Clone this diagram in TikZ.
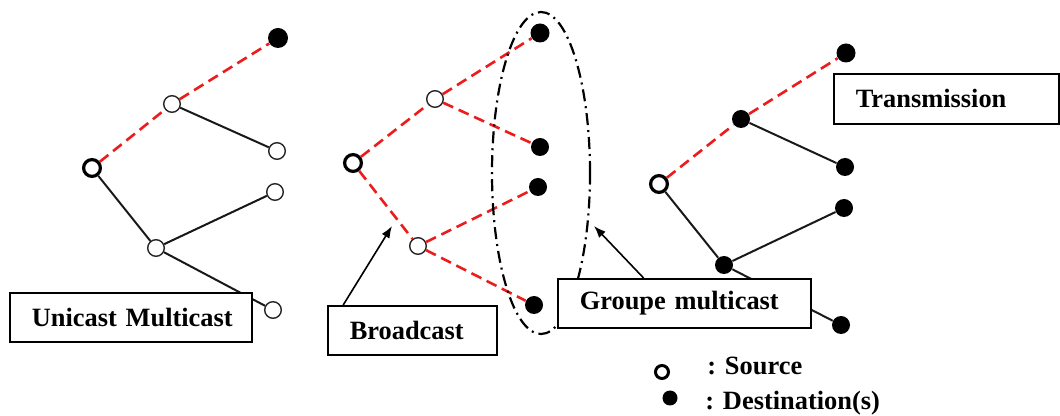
\documentclass[tikz,border=0pt]{standalone}
\usepackage{fontspec}
\setmainfont{Liberation Serif}
\usetikzlibrary{arrows.meta,calc,shapes.geometric}
\definecolor{pathred}{RGB}{236,28,28}
\hfuzz=5pt
\begin{document}
\begin{tikzpicture}[x=0.5pt,y=-0.5pt,
  dest/.style={circle,fill=black,inner sep=0pt,minimum size=9pt},
  relay/.style={circle,draw=black!85,line width=0.7pt,fill=white,inner sep=0pt,minimum size=8.3pt},
  src/.style={circle,draw=black,line width=1.6pt,fill=white,inner sep=0pt,minimum size=8.4pt},
  link/.style={line width=1pt,black!90},
  sent/.style={line width=1.3pt,pathred,dash pattern=on 5.5pt off 3pt},
  labelbox/.style={draw,line width=0.8pt,fill=white,anchor=north west,inner xsep=11pt,inner ysep=0pt,
    align=left,font=\fontsize{13.2}{15}\selectfont\bfseries},
  pointer/.style={line width=0.8pt,-{Latex[length=6pt,width=4.5pt]}},
  legendtext/.style={anchor=base west,inner sep=0pt,font=\fontsize{13.2}{15}\selectfont\bfseries}]
\useasboundingbox (0,0) rectangle (1060,416);

% Unicast / multicast tree
\node[dest,minimum size=10pt] (d1) at (278,38) {};
\node[relay] (r1a) at (172,104) {};
\node[relay] (r1b) at (277,151) {};
\node[src]   (s1)  at (92,168) {};
\node[relay] (r1c) at (275,192) {};
\node[relay] (r1d) at (156,248) {};
\node[relay] (r1e) at (273,310) {};

% Broadcast tree
\node[dest,minimum size=9.5pt] (d2a) at (540,33) {};
\node[relay] (r2a) at (435,99) {};
\node[dest]  (d2b) at (540,147) {};
\node[src]   (s2)  at (353,163) {};
\node[dest]  (d2c) at (538,187) {};
\node[relay] (r2b) at (418,246) {};
\node[dest]  (d2d) at (534,305) {};

% Transmission tree
\node[dest,minimum size=9.5pt] (d3a) at (846,53) {};
\node[dest]  (d3b) at (741,119) {};
\node[dest]  (d3c) at (845,167) {};
\node[src]   (s3)  at (659,184) {};
\node[dest]  (d3d) at (844,208) {};
\node[dest]  (d3e) at (724,265) {};
\node[dest]  (d3f) at (841,325) {};

% links
\draw[sent] (s1) -- (r1a);
\draw[sent] (r1a) -- (d1);
\draw[link] (r1a) -- (r1b);
\draw[link] (s1) -- (r1d);
\draw[link] (r1d) -- (r1c);
\draw[link] (r1d) -- (r1e);

\draw[sent] (s2) -- (r2a);
\draw[sent] (r2a) -- (d2a);
\draw[sent] (r2a) -- (d2b);
\draw[sent] (s2) -- (r2b);
\draw[sent] (r2b) -- (d2c);
\draw[sent] (r2b) -- (d2d);

\draw[sent] (s3) -- (d3b);
\draw[sent] (d3b) -- (d3a);
\draw[link] (d3b) -- (d3c);
\draw[link] (s3) -- (d3e);
\draw[link] (d3e) -- (d3d);
\draw[link] (d3e) -- (d3f);

% multicast group outline
\node[draw,ellipse,line width=1.1pt,dash pattern=on 6pt off 2.5pt on 1pt off 2.5pt,
  minimum width=49pt,minimum height=161pt,inner sep=0pt] (grp) at (541,173) {};

% captions
\node[labelbox,text width=99pt,minimum height=24.5pt] (uni) at (9,292) {\mbox{Unicast Multicast}};
\node[labelbox,text width=62.5pt,minimum height=24.5pt] (bc) at (327,305) {\mbox{Broadcast}};
\node[labelbox,text width=104.5pt,minimum height=24.5pt] (gm) at (557,278) {\mbox{Groupe multicast}};
\node[labelbox,text width=90.5pt,minimum height=25pt] (tx) at (833,73) {\mbox{Transmission}};

\coordinate (bctip) at (392,226);
\coordinate (gmtip) at (594,226);
\draw[pointer] ($(bc.north west)!0.095!(bc.north east)$) -- (bctip);
\draw[pointer] ($(gm.north west)!0.34!(gm.north east)$) -- (gmtip);

% legend
\node[src,line width=1.5pt,minimum size=6.5pt] (lsrc) at (662,372) {};
\node[dest,minimum size=7.5pt] (ldst) at (670,398) {};
\node[legendtext] (lsrct) at (707,375) {: Source};
\node[legendtext] (ldstt) at (705,410) {: Destination(s)};
\end{tikzpicture}
\end{document}
